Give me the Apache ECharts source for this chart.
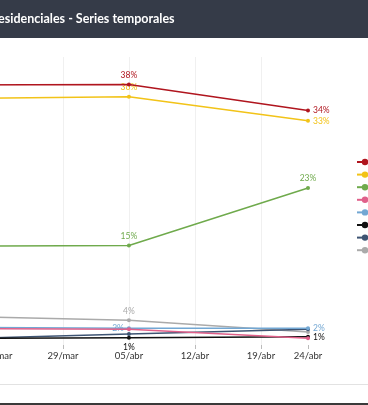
<!DOCTYPE html>
<html>
<head>
<meta charset="utf-8">
<script src="https://cdn.jsdelivr.net/npm/echarts@6/dist/echarts.min.js"></script>
<style>
html,body{margin:0;padding:0;overflow:hidden;background:#fff;width:368px;height:405px;}
#chart{position:absolute;left:-300px;top:0;width:768px;height:405px;}
</style>
</head>
<body>
<div id="chart"></div>
<script>
// ---- data ----
const dates = ['15/mar', '05/abr', '24/abr'];
const axisStart = '08/mar';
const axisEnd = '24/abr';
const seriesNames = ['Candidato 1', 'Candidato 2', 'Candidato 3', 'Candidato 4', 'Candidato 5', 'Candidato 6', 'Candidato 7', 'Candidato 8'];
const valsRed    = [37.9, 38.0, 34.2];
const valsYellow = [35.9, 36.2, 32.7];
const valsGreen  = [14.4, 14.5, 22.9];
const valsPink   = [2.4, 2.3, 1.0];
const valsBlue   = [2.6, 2.45, 2.45];
const valsBlack  = [0.95, 1.07, 1.2];
const valsSlate  = [0.8, 1.6, 2.3];
const valsGray   = [4.25, 3.6, 1.9];
const title = 'Presidenciales - Series temporales';

// ---- helpers ----
const MONTHS = ['ene','feb','mar','abr','may','jun','jul','ago','sep','oct','nov','dic'];
const MONTH_DAYS = [31,28,31,30,31,30,31,31,30,31,30,31];
function toDay(s){
  const p = s.split('/');
  const idx = MONTHS.indexOf(p[1]);
  let n = +p[0];
  for (let i = 0; i < idx; i++) n += MONTH_DAYS[i];
  return n;
}
const d0 = toDay(axisStart);
function fmtDay(v){
  let n = Math.round(v) + d0;
  let m = 0;
  while (n > MONTH_DAYS[m]) { n -= MONTH_DAYS[m]; m++; }
  return (n < 10 ? '0' + n : '' + n) + '/' + MONTHS[m];
}

// style config: colour and label placement for each point (null = no label)
const styles = [
  {color:'#b0151e', labels:[null,'top','right']},
  {color:'#f2c318', labels:[null,'top','right']},
  {color:'#6faa4c', labels:[null,'top','top']},
  {color:'#e0608a', labels:[null,null,null]},
  {color:'#72a7d3', labels:[null,'left','right']},
  {color:'#111111', labels:[null,'bottom','right']},
  {color:'#3e5473', labels:[null,null,null]},
  {color:'#aaaaaa', labels:[null,'top',null]}
];
const allVals = [valsRed, valsYellow, valsGreen, valsPink, valsBlue, valsBlack, valsSlate, valsGray];

const series = allVals.map(function(vals, si){
  const st = styles[si];
  return {
    name: seriesNames[si],
    type: 'line',
    symbol: 'circle',
    symbolSize: 4,
    color: st.color,
    lineStyle: {width: 1.5, color: st.color},
    z: 10 - si,
    data: vals.map(function(v, i){
      const pos = st.labels[i];
      return {
        value: [toDay(dates[i]) - d0, v],
        label: pos ? {show: true, position: pos} : {show: false}
      };
    }),
    label: {
      distance: 3,
      fontSize: 8.5,
      fontFamily: 'Lato',
      color: st.color,
      formatter: function(p){ return Math.round(p.value[1]) + '%'; }
    }
  };
});

const chart = echarts.init(document.getElementById('chart'));
chart.setOption({
  animation: false,
  backgroundColor: '#ffffff',
  textStyle: {fontFamily: 'Lato'},
  graphic: [
    {type:'rect', left:0, top:0, shape:{x:0,y:0,width:768,height:38}, style:{fill:'#353b48'}, z:0},
    {type:'text', left:286, top:12, style:{text:title, fill:'#ffffff', font:'bold 12.5px Lato'}, z:1},
    {type:'rect', shape:{x:0,y:384,width:768,height:1}, style:{fill:'#e2e2e2'}, z:0},
    {type:'rect', shape:{x:0,y:403,width:768,height:2}, style:{fill:'#3a3a3a'}, z:0}
  ],
  legend: {
    orient: 'vertical',
    left: 651,
    top: 152.5,
    itemWidth: 16,
    itemHeight: 8,
    itemGap: 3.6,
    textStyle: {fontSize: 9, lineHeight: 9, color: '#333', fontFamily: 'Lato'},
    data: seriesNames
  },
  grid: {left: 165, right: 160, top: 57, bottom: 60},
  xAxis: {
    type: 'value',
    min: 0,
    max: toDay(axisEnd) - d0,
    interval: 7,
    axisLine: {show: false},
    axisTick: {show: true, length: 4, lineStyle: {color: '#bbbbbb'}},
    axisLabel: {show: true, showMaxLabel: true, showMinLabel: true, margin: 6, fontSize: 9.5, color: '#333', fontFamily: 'Lato', formatter: fmtDay},
    splitLine: {show: true, showMaxLine: false, lineStyle: {color: '#f0f0f0', width: 1}}
  },
  yAxis: {
    type: 'value',
    min: 0,
    max: 42,
    show: false,
    splitLine: {show: false}
  },
  series: series
});
</script>
</body>
</html>
